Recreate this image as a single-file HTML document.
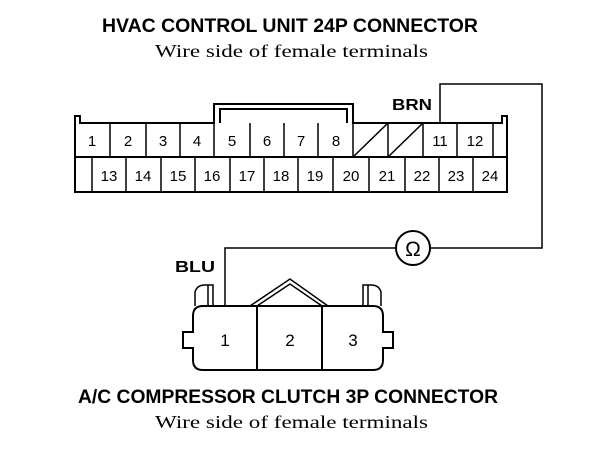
<!DOCTYPE html>
<html><head><style>html,body{margin:0;padding:0;background:#fff}svg{display:block}</style></head>
<body>
<svg width="608" height="452" viewBox="0 0 608 452" xmlns="http://www.w3.org/2000/svg">
<g font-family="Liberation Sans, sans-serif" font-weight="bold" font-size="19" fill="#000">
<text x="102" y="32" textLength="376" lengthAdjust="spacingAndGlyphs">HVAC CONTROL UNIT 24P CONNECTOR</text>
<text x="78" y="403" textLength="420" lengthAdjust="spacingAndGlyphs">A/C COMPRESSOR CLUTCH 3P CONNECTOR</text>
<text x="392" y="110" font-size="16" textLength="40" lengthAdjust="spacingAndGlyphs">BRN</text>
<text x="175" y="272" font-size="16" textLength="40" lengthAdjust="spacingAndGlyphs">BLU</text>
</g>
<g font-family="Liberation Serif, serif" font-size="18" fill="#000">
<text x="155" y="57" textLength="273" lengthAdjust="spacingAndGlyphs">Wire side of female terminals</text>
<text x="155" y="428" textLength="273" lengthAdjust="spacingAndGlyphs">Wire side of female terminals</text>
</g>
<g fill="none" stroke="#000" stroke-width="2">
<path d="M75 192 V116 H80 V123 H214 V104 H353 V123 H502 V116 H507 V192 Z"/>
<path d="M220 123 V109 H347 V123"/>
<line x1="75" y1="157" x2="507" y2="157"/>
<g stroke-width="1.5">
<line x1="110" y1="123" x2="110" y2="157"/><line x1="146" y1="123" x2="146" y2="157"/>
<line x1="180" y1="123" x2="180" y2="157"/><line x1="214" y1="123" x2="214" y2="157"/>
<line x1="250" y1="123" x2="250" y2="157"/><line x1="284" y1="123" x2="284" y2="157"/>
<line x1="318" y1="123" x2="318" y2="157"/><line x1="353" y1="123" x2="353" y2="157"/>
<line x1="388" y1="123" x2="388" y2="157"/><line x1="423" y1="123" x2="423" y2="157"/>
<line x1="457" y1="123" x2="457" y2="157"/><line x1="493" y1="123" x2="493" y2="157"/>
<line x1="353" y1="157" x2="388" y2="123"/><line x1="388" y1="157" x2="423" y2="123"/>
<line x1="92" y1="157" x2="92" y2="192"/><line x1="126" y1="157" x2="126" y2="192"/>
<line x1="161" y1="157" x2="161" y2="192"/><line x1="195" y1="157" x2="195" y2="192"/>
<line x1="230" y1="157" x2="230" y2="192"/><line x1="264" y1="157" x2="264" y2="192"/>
<line x1="298" y1="157" x2="298" y2="192"/><line x1="333" y1="157" x2="333" y2="192"/>
<line x1="369" y1="157" x2="369" y2="192"/><line x1="405" y1="157" x2="405" y2="192"/>
<line x1="439" y1="157" x2="439" y2="192"/><line x1="473" y1="157" x2="473" y2="192"/>
</g>
<path d="M440 123 V84 H542 V248 H430" stroke-width="1.5"/>
<path d="M396 248 H225 V306" stroke-width="1.5"/>
<circle cx="413" cy="248" r="17"/>
<path d="M203 306 H373 Q383 306 383 316 V332 H393 V348 H383 V360 Q383 370 373 370 H203 Q193 370 193 360 V348 H183 V332 H193 V316 Q193 306 203 306 Z"/>
<line x1="257" y1="306" x2="257" y2="370"/><line x1="322" y1="306" x2="322" y2="370"/>
<path d="M250 306 L290 279 L328 306" stroke-width="1.5"/>
<path d="M257 306 L290 284 L322 306" stroke-width="1.5"/>
<path d="M195 306 V292 Q197 285 205 285 H213 V306 M208 285 V306" stroke-width="1.5"/>
<path d="M381 306 V292 Q379 285 371 285 H363 V306 M368 285 V306" stroke-width="1.5"/>
</g>
<g font-family="Liberation Sans, sans-serif" font-size="15" fill="#000" text-anchor="middle">
<text x="92" y="146">1</text><text x="128" y="146">2</text><text x="163" y="146">3</text><text x="197" y="146">4</text>
<text x="232" y="146">5</text><text x="267" y="146">6</text><text x="301" y="146">7</text><text x="336" y="146">8</text>
<text x="440" y="146">11</text><text x="475" y="146">12</text>
<text x="109" y="181">13</text><text x="143" y="181">14</text><text x="178" y="181">15</text><text x="212" y="181">16</text>
<text x="247" y="181">17</text><text x="281" y="181">18</text><text x="315" y="181">19</text><text x="351" y="181">20</text>
<text x="387" y="181">21</text><text x="422" y="181">22</text><text x="456" y="181">23</text><text x="490" y="181">24</text>
<text x="225" y="346" font-size="17">1</text><text x="290" y="346" font-size="17">2</text><text x="353" y="346" font-size="17">3</text>
<text x="413" y="256" font-size="21">Ω</text>
</g>
</svg>
</body></html>
